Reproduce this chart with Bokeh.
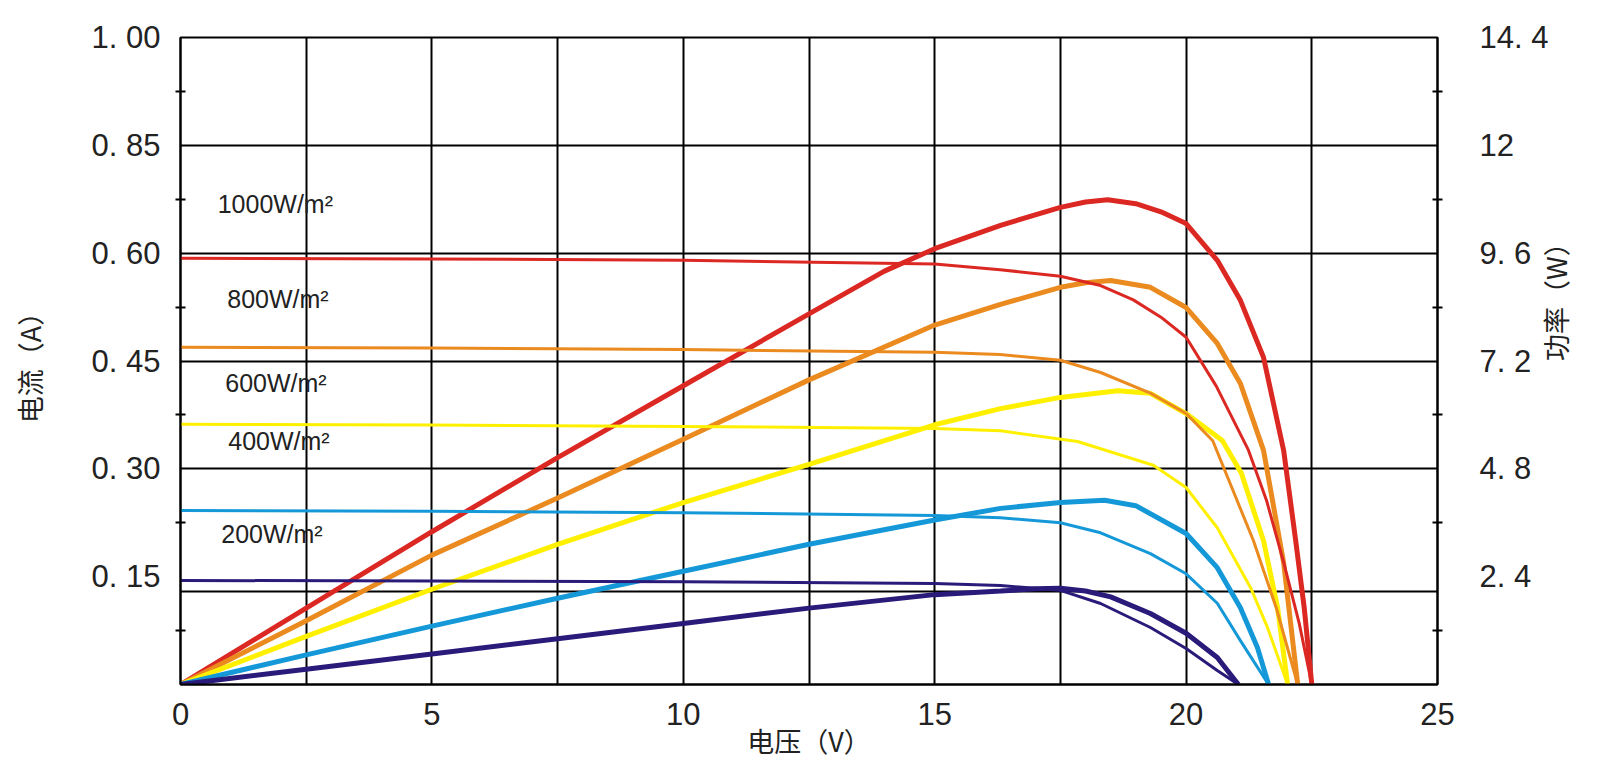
import math
from bokeh.plotting import figure
from bokeh.models import Range1d, LinearAxis, FixedTicker, ColumnDataSource
from bokeh.core.properties import value
from bokeh.embed import file_html
from bokeh.resources import INLINE

# ---------------- data ----------------
irradiance = ["1000W/m²", "800W/m²", "600W/m²", "400W/m²", "200W/m²"]
colors = ["#dc2822", "#ea8a1f", "#fff000", "#1598d8", "#2a1b7a"]

# current-voltage curves (A)
iv_v_1000 = [0, 5, 10, 15, 16.3, 17.5, 18.3, 18.95, 19.5, 20.0, 20.6, 21.24, 21.6, 21.94, 22.25, 22.5]
iv_i_1000 = [0.593, 0.592, 0.590, 0.585, 0.577, 0.568, 0.555, 0.535, 0.511, 0.483, 0.415, 0.326, 0.256, 0.170, 0.085, 0.0]
iv_v_800 = [0, 5, 10, 15, 16.3, 17.5, 18.3, 19.3, 20.0, 20.53, 21.34, 21.8, 22.22]
iv_i_800 = [0.469, 0.468, 0.466, 0.462, 0.459, 0.451, 0.434, 0.405, 0.377, 0.339, 0.200, 0.105, 0.0]
iv_v_600 = [0, 5, 10, 15, 16.31, 17.84, 19.35, 20.0, 20.62, 21.28, 21.62, 22.02]
iv_i_600 = [0.362, 0.361, 0.359, 0.356, 0.353, 0.338, 0.305, 0.274, 0.218, 0.135, 0.079, 0.0]
iv_v_400 = [0, 5, 10, 15, 16.31, 17.5, 18.3, 19.29, 20.0, 20.62, 21.08, 21.64]
iv_i_400 = [0.242, 0.241, 0.239, 0.235, 0.232, 0.225, 0.211, 0.182, 0.154, 0.113, 0.061, 0.0]
iv_v_200 = [0, 5, 10, 15, 16.31, 17.5, 18.3, 19.29, 20.0, 20.62, 21.04]
iv_i_200 = [0.1447, 0.144, 0.143, 0.1405, 0.1377, 0.131, 0.1127, 0.0793, 0.050, 0.0195, 0.0]

# power-voltage curves (W)
pv_v_1000 = [0, 2.5, 5, 7.5, 10, 12.5, 14.0, 15.0, 16.31, 17.5, 18.0, 18.44, 19.0, 19.5, 20.0, 20.62, 21.08, 21.54, 21.94, 22.18, 22.35, 22.5]
pv_p_1000 = [0, 1.70, 3.40, 5.05, 6.65, 8.25, 9.20, 9.70, 10.22, 10.62, 10.74, 10.79, 10.70, 10.52, 10.26, 9.44, 8.55, 7.28, 5.21, 3.20, 1.70, 0]
pv_v_800 = [0, 2.5, 5, 7.5, 10, 12.5, 15, 16.31, 17.5, 18.0, 18.5, 19.29, 20.0, 20.62, 21.08, 21.54, 21.94, 22.22]
pv_p_800 = [0, 1.42, 2.88, 4.15, 5.46, 6.78, 8.0, 8.46, 8.84, 8.94, 8.99, 8.84, 8.39, 7.59, 6.70, 5.21, 2.71, 0]
pv_v_600 = [0, 2.5, 5, 7.5, 10, 12.5, 15, 16.31, 17.5, 18.64, 19.29, 20.0, 20.72, 21.1, 21.54, 21.82, 22.02]
pv_p_600 = [0, 1.07, 2.12, 3.12, 4.05, 4.90, 5.78, 6.14, 6.39, 6.54, 6.48, 6.03, 5.43, 4.70, 3.20, 1.71, 0]
pv_v_400 = [0, 2.5, 5, 7.5, 10, 12.5, 15, 16.31, 17.5, 18.38, 19.0, 20.0, 20.62, 21.08, 21.42, 21.64]
pv_p_400 = [0, 0.66, 1.30, 1.92, 2.52, 3.12, 3.66, 3.92, 4.05, 4.10, 3.98, 3.36, 2.60, 1.71, 0.82, 0]
pv_v_200 = [0, 2.5, 5, 7.5, 10, 12.5, 15, 16.31, 17.0, 17.5, 18.0, 18.5, 19.29, 20.0, 20.62, 21.04]
pv_p_200 = [0, 0.34, 0.68, 1.02, 1.36, 1.70, 2.00, 2.08, 2.13, 2.14, 2.08, 1.95, 1.58, 1.14, 0.60, 0]

iv_v = [iv_v_1000, iv_v_800, iv_v_600, iv_v_400, iv_v_200]
iv_i = [iv_i_1000, iv_i_800, iv_i_600, iv_i_400, iv_i_200]
pv_v = [pv_v_1000, pv_v_800, pv_v_600, pv_v_400, pv_v_200]
pv_p = [pv_p_1000, pv_p_800, pv_p_600, pv_p_400, pv_p_200]

# label anchors (voltage, power units)
label_v = [0.74, 0.93, 0.89, 0.95, 0.81]
label_p = [10.7, 8.59, 6.72, 5.41, 3.36]

# axes
x_ticks = [0, 5, 10, 15, 20, 25]
x_grid = [2.5, 5, 7.5, 10, 12.5, 15, 17.5, 20, 22.5]
current_ticks = [0.15, 0.30, 0.45, 0.60, 0.75, 0.90]
current_tick_labels = ["0. 15", "0. 30", "0. 45", "0. 60", "0. 85", "1. 00"]
current_minor = [0.075, 0.225, 0.375, 0.525, 0.675, 0.825]
power_ticks = [2.4, 4.8, 7.2, 9.6, 12.0, 14.4]
power_tick_labels = ["2. 4", "4. 8", "7. 2", "9. 6", "12", "14. 4"]
power_minor = [1.2, 3.6, 6.0, 8.4, 10.8, 13.2]
power_grid = [2.07, 4.8, 7.2, 9.6, 12.0, 14.4]

x_title = "电压（V）"
left_title = "电流（A）"
right_title = "功率（W）"

# ---------------- figure ----------------
p = figure(width=1598, height=765, x_range=Range1d(0, 25), y_range=Range1d(0, 14.4),
           output_backend="svg", toolbar_location=None, y_axis_location="right",
           min_border_left=180, min_border_right=161, min_border_top=37, min_border_bottom=81)
p.extra_y_ranges = {"current": Range1d(0, 0.9)}
p.background_fill_color = "white"
p.outline_line_color = "black"
p.outline_line_width = 2

TICK_FONT = "Liberation Sans"
CJK = "Noto Sans CJK SC"

# grid
p.xgrid.ticker = FixedTicker(ticks=x_grid)
p.ygrid.ticker = FixedTicker(ticks=power_grid)
for g in (p.xgrid, p.ygrid):
    g.grid_line_color = "black"
    g.grid_line_width = 2
    g.grid_line_alpha = 1.0

# x axis
xa = p.xaxis[0]
xa.ticker = FixedTicker(ticks=x_ticks)
xa.major_tick_in = 0
xa.major_tick_out = 0
xa.minor_tick_line_color = None
xa.axis_line_width = 2
xa.axis_line_color = "black"
xa.major_label_text_font = TICK_FONT
xa.major_label_text_font_size = "31px"
xa.major_label_text_color = "#222222"
xa.major_label_standoff = 18
xa.axis_label = x_title
xa.axis_label_standoff = -7

# right (power) axis
ra = p.yaxis[0]
ra.ticker = FixedTicker(ticks=power_ticks, minor_ticks=power_minor)
ra.major_label_overrides = dict(zip(power_ticks, power_tick_labels))
ra.axis_label = right_title
ra.axis_label_orientation = math.pi / 2
ra.axis_label_standoff = 4

# left (current) axis
la = LinearAxis(y_range_name="current",
                ticker=FixedTicker(ticks=current_ticks, minor_ticks=current_minor),
                major_label_overrides=dict(zip(current_ticks, current_tick_labels)))
p.add_layout(la, "left")
la.axis_label = left_title
la.axis_label_standoff = 40

for ax, standoff in ((la, 15), (ra, 37)):
    ax.major_tick_in = 0
    ax.major_tick_out = 0
    ax.minor_tick_in = 5
    ax.minor_tick_out = 5
    ax.minor_tick_line_width = 2
    ax.minor_tick_line_color = "black"
    ax.axis_line_width = 2
    ax.axis_line_color = "black"
    ax.major_label_text_font = TICK_FONT
    ax.major_label_text_font_size = "31px"
    ax.major_label_text_color = "#222222"
    ax.major_label_standoff = standoff

for ax in (xa, la, ra):
    ax.axis_label_text_font = CJK
    ax.axis_label_text_font_size = "27px"
    ax.axis_label_text_font_style = "normal"
    ax.axis_label_text_color = "#222222"
    ax.axis_label_text_line_height = 0.9

# curves
for k in range(5):
    p.line(pv_v[k], pv_p[k], line_color=colors[k], line_width=5)
for k in range(5):
    p.line(iv_v[k], iv_i[k], line_color=colors[k], line_width=3, y_range_name="current")

src = ColumnDataSource(dict(x=label_v, y=label_p, t=irradiance))
p.text(x="x", y="y", text="t", source=src, text_font=value("Liberation Sans"),
       text_font_size="25px", text_color="#222222", text_baseline="middle", text_align="left")

open("out.html", "w").write(file_html(p, INLINE))
